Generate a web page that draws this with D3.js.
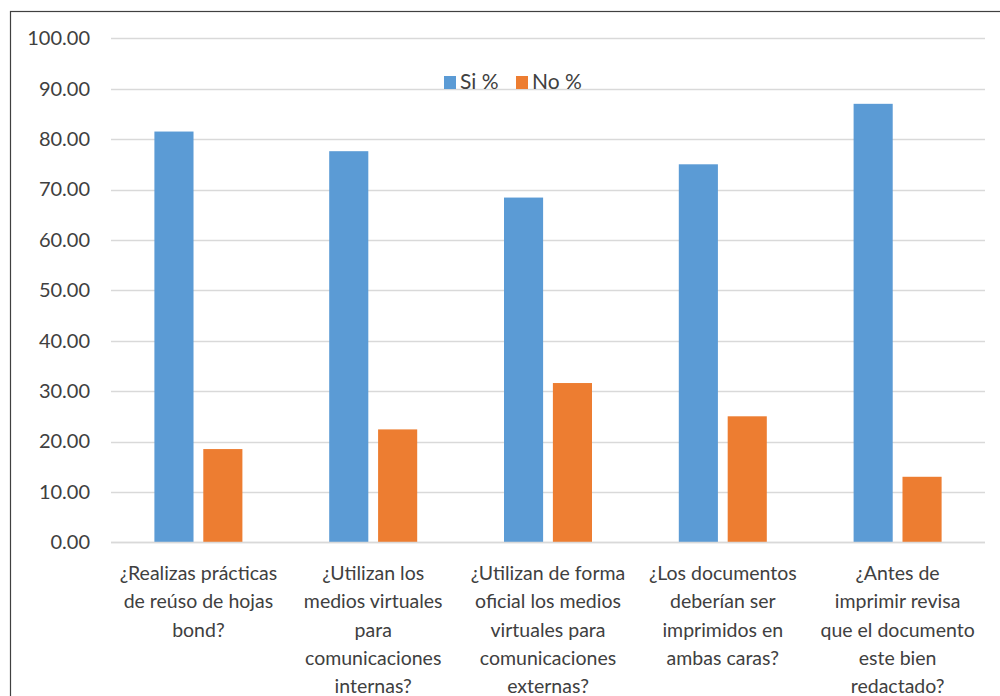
<!DOCTYPE html>
<html>
<head>
<meta charset="utf-8">
<script src="https://cdn.jsdelivr.net/npm/d3@7"></script>
<style>
  html, body { margin: 0; padding: 0; background: #fff; }
  svg { display: block; }
  text { font-family: Lato, "Open Sans", sans-serif; fill: #404040; }
</style>
</head>
<body>
<script>
const categories = [
  "¿Realizas prácticas de reúso de hojas bond?",
  "¿Utilizan los medios virtuales para comunicaciones internas?",
  "¿Utilizan de forma oficial los medios virtuales para comunicaciones externas?",
  "¿Los documentos deberían ser imprimidos en ambas caras?",
  "¿Antes de imprimir revisa que el documento este bien redactado?"
];
const categoryLines = [
  ["¿Realizas prácticas", "de reúso de hojas", "bond?"],
  ["¿Utilizan los", "medios virtuales", "para", "comunicaciones", "internas?"],
  ["¿Utilizan de forma", "oficial los medios", "virtuales para", "comunicaciones", "externas?"],
  ["¿Los documentos", "deberían ser", "imprimidos en", "ambas caras?"],
  ["¿Antes de", "imprimir revisa", "que el documento", "este bien", "redactado?"]
];
const seriesNames = ["Si %", "No %"];
const siValues = [81.5, 77.6, 68.4, 75.0, 87.0];
const noValues = [18.5, 22.4, 31.6, 25.0, 13.0];
const yTicks = [0, 10, 20, 30, 40, 50, 60, 70, 80, 90, 100];
const colors = ["#5B9BD5", "#ED7D31"];

(function () {
const W = 1000, H = 696;
const svg = d3.select("body").append("svg").attr("width", W).attr("height", H);

// chart border (top + left visible)
svg.append("rect").attr("x", 10.5).attr("y", 11.5).attr("width", W + 10).attr("height", H + 10)
  .attr("fill", "#fff").attr("stroke", "#404040").attr("stroke-width", 1.2);

const pLeft = 111, pRight = 985, pTop = 38.3, pBottom = 542.3;
const y = d3.scaleLinear().domain([0, 100]).range([pBottom, pTop]);
const x0 = d3.scaleBand().domain(categories).range([pLeft, pRight]).padding(0);
const x1 = d3.scaleBand().domain(seriesNames).range([-44, 44]).paddingInner(0.2).paddingOuter(0);

// gridlines
svg.append("g").selectAll("line").data(yTicks).join("line")
  .attr("x1", pLeft).attr("x2", pRight)
  .attr("y1", d => Math.round(y(d)) + 0.5).attr("y2", d => Math.round(y(d)) + 0.5)
  .attr("stroke", "#D9D9D9").attr("stroke-width", 1.3);

// y axis labels
const yAxis = d3.axisLeft(y).tickValues(yTicks).tickFormat(d3.format(".2f")).tickSize(0).tickPadding(0);
const gy = svg.append("g").attr("transform", `translate(90,0)`).call(yAxis);
gy.select(".domain").remove();
gy.selectAll("text").attr("font-size", 20).attr("fill", "#404040")
  .style("font-family", "Lato, 'Open Sans', sans-serif");

// bars
const data = categories.map((c, i) => ({ cat: c, vals: [siValues[i], noValues[i]] }));
const groups = svg.append("g").selectAll("g").data(data).join("g")
  .attr("transform", d => `translate(${x0(d.cat) + x0.bandwidth() / 2},0)`);
groups.selectAll("rect").data(d => d.vals.map((v, j) => ({ s: seriesNames[j], v, j })))
  .join("rect")
  .attr("x", d => x1(d.s))
  .attr("width", x1.bandwidth())
  .attr("y", d => y(d.v))
  .attr("height", d => y(0) - y(d.v))
  .attr("fill", d => colors[d.j]);

// x axis line
svg.append("line").attr("x1", pLeft).attr("x2", pRight)
  .attr("y1", Math.round(y(0)) + 0.5).attr("y2", Math.round(y(0)) + 0.5)
  .attr("stroke", "#D9D9D9").attr("stroke-width", 1.3);

// category labels
const labels = svg.append("g").selectAll("text").data(categories).join("text")
  .attr("text-anchor", "middle")
  .attr("font-size", 19.5)
  .attr("x", d => x0(d) + x0.bandwidth() / 2)
  .attr("y", 580);
labels.each(function (d, i) {
  d3.select(this).selectAll("tspan").data(categoryLines[i]).join("tspan")
    .attr("x", x0(d) + x0.bandwidth() / 2)
    .attr("dy", (t, k) => k === 0 ? 0 : 28.3)
    .text(t => t);
});

// legend
const legend = svg.append("g");
const legendItems = [{ name: seriesNames[0], x: 444, c: colors[0] }, { name: seriesNames[1], x: 516, c: colors[1] }];
legendItems.forEach(it => {
  legend.append("rect").attr("x", it.x).attr("y", 76).attr("width", 12).attr("height", 13).attr("fill", it.c);
  legend.append("text").attr("x", it.x + 16).attr("y", 89).attr("font-size", 21).text(it.name);
});
})();
</script>
</body>
</html>
